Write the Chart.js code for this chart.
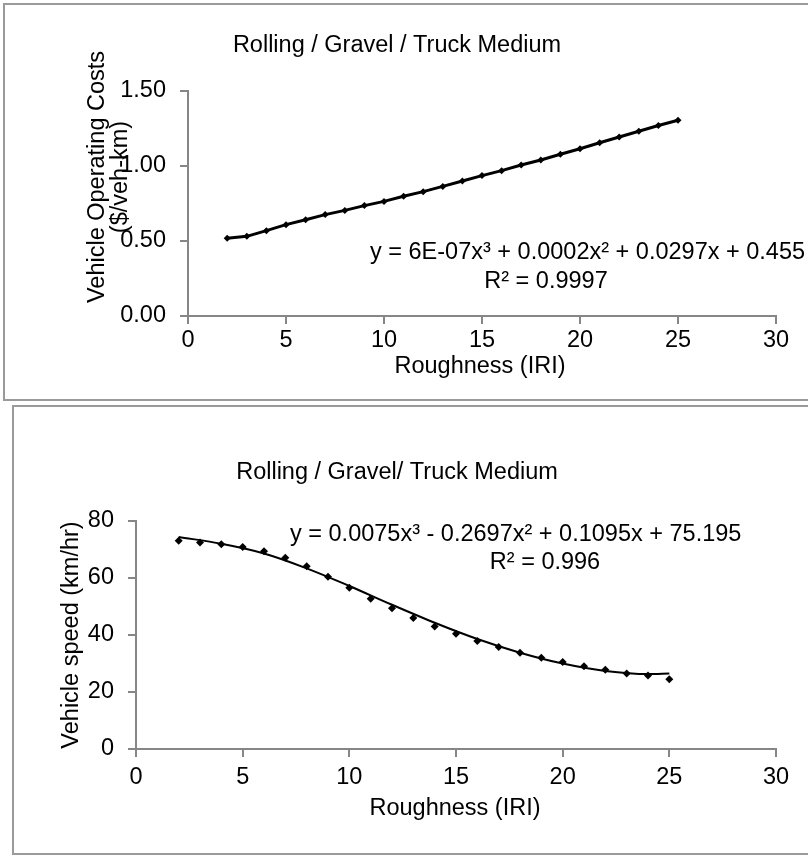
<!DOCTYPE html>
<html>
<head>
<meta charset="utf-8">
<script src="https://cdn.jsdelivr.net/npm/chart.js@4.4.1/dist/chart.umd.min.js"></script>
<style>
    html, body { margin: 0; padding: 0; background: #fff; }
    body { width: 808px; height: 859px; overflow: hidden; position: relative; }
    .box { position: absolute; border: 2px solid #9a9a9a; background: #fff; }
    #box1 { left: 3px; top: 3px; width: 840px; height: 394px; }
    #box2 { left: 12px; top: 405px; width: 840px; height: 446px; }
    canvas { display: block; }
</style>
</head>
<body>
<div class="box" id="box1"><canvas id="vocChart" width="840" height="394"></canvas></div>
<div class="box" id="box2"><canvas id="speedChart" width="840" height="446"></canvas></div>
<script>
// Roughness (IRI) values shared by both charts
const roughness = [2, 3, 4, 5, 6, 7, 8, 9, 10, 11, 12, 13, 14, 15, 16, 17, 18, 19, 20, 21, 22, 23, 24, 25];

// Vehicle operating costs ($/veh-km)
const vocValues = [0.518, 0.531, 0.569, 0.609, 0.642, 0.676, 0.704, 0.736, 0.764, 0.798, 0.829, 0.864,
                   0.900, 0.936, 0.969, 1.007, 1.040, 1.078, 1.115, 1.155, 1.193, 1.232, 1.270, 1.305];

// Vehicle speed (km/hr)
const speedValues = [73.1, 72.5, 71.8, 70.9, 69.4, 67.1, 64.1, 60.4, 56.6, 52.7, 49.4, 46.0,
                     43.0, 40.4, 37.9, 35.8, 33.8, 32.0, 30.5, 29.0, 27.8, 26.5, 25.8, 24.5];

// Speed trendline
const speedTrendX = [2, 4, 6, 8, 10, 12, 14, 16, 18, 20, 22, 24, 25];
const speedTrendY = [74.4, 72.0, 68.6, 63.4, 57.2, 50.6, 44.3, 38.6, 33.8, 30.0, 27.4, 26.3, 26.5];

const xTicks = [0, 5, 10, 15, 20, 25, 30];
const vocTicks = [0, 0.5, 1.0, 1.5];
const speedTicks = [0, 20, 40, 60, 80];

const FONT = '"Liberation Sans", Arial, sans-serif';
const FONT_SIZE = 23.5;
const AXIS_GRAY = '#868686';

function toPoints(xs, ys) {
    return xs.map((x, i) => ({ x: x, y: ys[i] }));
}

// draws title, axis titles and trendline labels
const notesPlugin = {
    id: 'notes',
    afterDraw(chart, args, opts) {
        const ctx = chart.ctx;
        (opts.items || []).forEach(item => {
            ctx.save();
            ctx.font = FONT_SIZE + 'px ' + FONT;
            ctx.fillStyle = '#000';
            ctx.textAlign = item.align || 'center';
            ctx.textBaseline = 'middle';
            ctx.translate(item.x, item.y);
            if (item.rotate) ctx.rotate(-Math.PI / 2);
            ctx.fillText(item.text, 0, 0);
            ctx.restore();
        });
    }
};

function axisScales(xRange, yRange, yTicks, yFmt, plot) {
    const common = {
        type: 'linear',
        grid: { drawOnChartArea: false, drawTicks: true, tickLength: 8, color: AXIS_GRAY, lineWidth: 2 },
        border: { color: AXIS_GRAY, width: 2 },
        ticks: { color: '#000', font: { family: FONT, size: FONT_SIZE } }
    };
    return {
        x: Object.assign({}, common, {
            min: xRange[0], max: xRange[1],
            afterBuildTicks: s => { s.ticks = xTicks.map(v => ({ value: v })); },
            ticks: Object.assign({}, common.ticks, { padding: plot.xPad, maxRotation: 0 }),
            afterFit: s => { s.height = plot.xHeight; }
        }),
        y: Object.assign({}, common, {
            min: yRange[0], max: yRange[1],
            afterBuildTicks: s => { s.ticks = yTicks.map(v => ({ value: v })); },
            ticks: Object.assign({}, common.ticks, { padding: 14, callback: yFmt }),
            afterFit: s => { s.width = plot.yWidth; }
        })
    };
}

// Top chart: vehicle operating costs
new Chart(document.getElementById('vocChart'), {
    type: 'scatter',
    data: {
        datasets: [{
            data: toPoints(roughness, vocValues),
            showLine: true,
            borderColor: '#000',
            borderWidth: 3,
            backgroundColor: '#000',
            pointStyle: 'rectRot',
            pointRadius: 3.5,
            pointBorderWidth: 0
        }]
    },
    options: {
        responsive: false,
        animation: false,
        layout: { padding: { left: 0, right: 69, top: 86, bottom: 0 } },
        plugins: {
            legend: { display: false },
            tooltip: { enabled: false },
            notes: {
                items: [
                    { text: 'Rolling / Gravel / Truck Medium', x: 392, y: 41 },
                    { text: 'Vehicle Operating Costs', x: 93, y: 172, rotate: true },
                    { text: '($/veh-km)', x: 116, y: 172, rotate: true },
                    { text: 'Roughness (IRI)', x: 475, y: 362 },
                    { text: 'y = 6E-07x\u00B3 + 0.0002x\u00B2 + 0.0297x + 0.455', x: 365, y: 248, align: 'left' },
                    { text: 'R\u00B2 = 0.9997', x: 541, y: 277 }
                ]
            }
        },
        scales: axisScales([0, 30], [0, 1.5], vocTicks, v => v.toFixed(2), { xHeight: 83, yWidth: 183, xPad: 2 })
    },
    plugins: [notesPlugin]
});

// Bottom chart: vehicle speed
new Chart(document.getElementById('speedChart'), {
    type: 'scatter',
    data: {
        datasets: [{
            data: toPoints(roughness, speedValues),
            showLine: false,
            backgroundColor: '#000',
            borderColor: '#000',
            pointStyle: 'rectRot',
            pointRadius: 4,
            pointBorderWidth: 0
        }, {
            data: toPoints(speedTrendX, speedTrendY),
            showLine: true,
            borderColor: '#000',
            borderWidth: 2,
            pointRadius: 0,
            cubicInterpolationMode: 'monotone'
        }]
    },
    options: {
        responsive: false,
        animation: false,
        layout: { padding: { left: 0, right: 78, top: 114, bottom: 0 } },
        plugins: {
            legend: { display: false },
            tooltip: { enabled: false },
            notes: {
                items: [
                    { text: 'Rolling / Gravel/ Truck Medium', x: 383, y: 66 },
                    { text: 'Vehicle speed (km/hr)', x: 58, y: 228, rotate: true },
                    { text: 'Roughness (IRI)', x: 441, y: 402 },
                    { text: 'y = 0.0075x\u00B3 - 0.2697x\u00B2 + 0.1095x + 75.195', x: 276, y: 128, align: 'left' },
                    { text: 'R\u00B2 = 0.996', x: 531, y: 156 }
                ]
            }
        },
        scales: axisScales([0, 30], [0, 80], speedTicks, v => String(v), { xHeight: 104, yWidth: 122, xPad: 6 })
    },
    plugins: [notesPlugin]
});
</script>
</body>
</html>
